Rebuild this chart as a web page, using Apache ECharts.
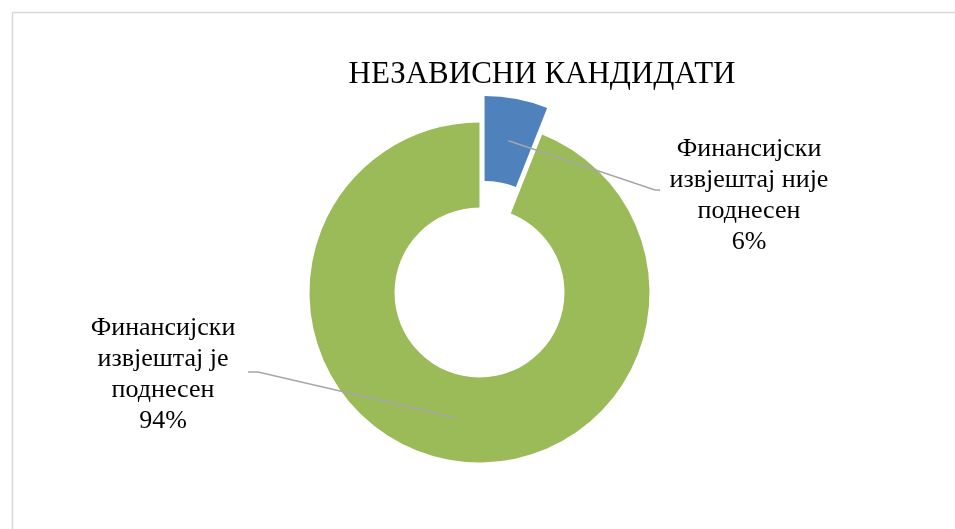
<!DOCTYPE html>
<html>
<head>
<meta charset="utf-8">
<style>
  html, body { margin: 0; padding: 0; background: #fff; }
  #chart { width: 955px; height: 529px; }
</style>
<script src="https://cdn.jsdelivr.net/npm/echarts@6/dist/echarts.min.js"></script>
</head>
<body>
<div id="chart"></div>
<script>
const title = "НЕЗАВИСНИ КАНДИДАТИ";
const categories = ["Финансијски\nизвјештај није\nподнесен", "Финансијски\nизвјештај је\nподнесен"];
const values = [6, 94];
const colors = ["#4f81bd", "#9bbb59"];

// label block centres and the elbow of each leader line
const labelSpots = [
  { x: 749, y: 196, elbow: [[655, 190], [660, 190]] },
  { x: 163, y: 375, elbow: [[258, 372], [248, 372]] },
];

const center = [479.5, 292.5];
const radius = [85, 170];
const offset = 27;
const fontFamily = "Liberation Serif";

const chart = echarts.init(document.getElementById("chart"));

const total = values.reduce((a, b) => a + b, 0);

// point in the middle of the ring, at the middle angle of a slice
function midPoint(index) {
  let before = 0;
  for (let i = 0; i < index; i++) before += values[i];
  const angle = ((before + values[index] / 2) / total) * Math.PI * 2;
  const r = (radius[0] + radius[1]) / 2 + (index === 0 ? offset : 0);
  return [center[0] + Math.sin(angle) * r, center[1] - Math.cos(angle) * r];
}

const graphics = [{
  type: "rect",
  shape: { x: 12.5, y: 12.5, width: 1200, height: 800 },
  style: { fill: "none", stroke: "#d9d9d9", lineWidth: 1.5 },
  silent: true,
  z: 0,
}];

categories.forEach((name, i) => {
  const spot = labelSpots[i];
  graphics.push({
    type: "polyline",
    shape: { points: [midPoint(i), spot.elbow[0], spot.elbow[1]] },
    style: { stroke: "#a6a6a6", lineWidth: 1.5, fill: "none" },
    silent: true,
    z: 100,
  });
  graphics.push({
    type: "text",
    x: spot.x,
    y: spot.y,
    style: {
      text: `${name}\n${values[i]}%`,
      fontFamily,
      fontSize: 26,
      lineHeight: 31,
      fill: "#000",
      align: "center",
      verticalAlign: "middle",
    },
    silent: true,
    z: 100,
  });
});

chart.setOption({
  animation: false,
  title: {
    text: title,
    left: 537,
    top: 54,
    textAlign: "center",
    textStyle: { fontFamily, fontSize: 31, fontWeight: "normal", color: "#000" },
  },
  graphic: graphics,
  series: [{
    type: "pie",
    center,
    radius,
    startAngle: 90,
    clockwise: true,
    selectedMode: "single",
    selectedOffset: offset,
    emphasis: { disabled: true },
    label: { show: false },
    labelLine: { show: false },
    data: categories.map((name, i) => ({
      name,
      value: values[i],
      selected: i === 0,
      itemStyle: { color: colors[i] },
    })),
  }],
});
</script>
</body>
</html>
